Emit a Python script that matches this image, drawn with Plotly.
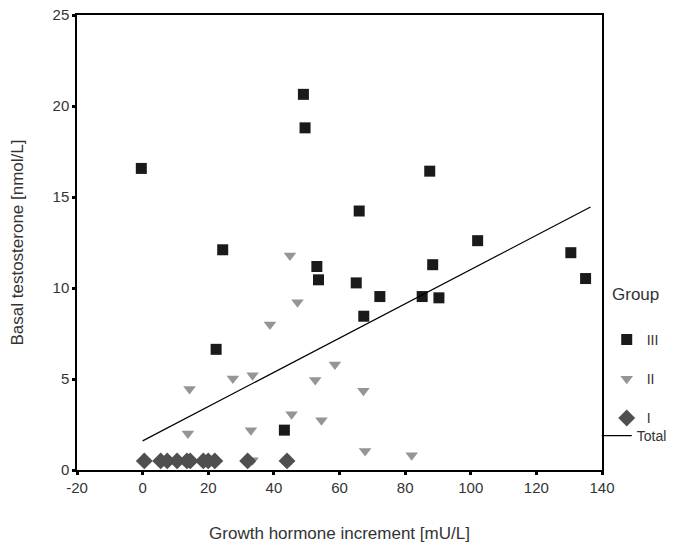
import plotly.graph_objects as go

# Group III (squares)
g3_x = [-0.4, 24.4, 22.4, 43.2, 49.0, 49.5, 53.1, 53.6, 66.0, 65.1, 67.4, 72.3, 85.2, 87.5, 88.4, 90.3, 102.1, 130.5, 135.0]
g3_y = [16.57, 12.1, 6.63, 2.19, 20.64, 18.8, 11.18, 10.45, 14.23, 10.28, 8.45, 9.53, 9.53, 16.42, 11.28, 9.46, 12.6, 11.94, 10.52]

# Group II (triangles)
g2_x = [44.9, 47.2, 38.8, 58.6, 27.5, 33.5, 14.3, 52.6, 45.4, 54.5, 13.8, 33.0, 33.5, 67.3, 67.8, 82.0]
g2_y = [11.79, 9.22, 7.99, 5.79, 5.03, 5.21, 4.45, 4.94, 3.07, 2.74, 2.0, 2.19, 0.53, 4.35, 1.05, 0.81]

# Group I (diamonds)
g1_x = [0.5, 5.5, 7.5, 10.5, 13.5, 14.5, 18.5, 20.0, 22.0, 32.0, 44.0]
g1_y = [0.5, 0.5, 0.5, 0.5, 0.5, 0.5, 0.5, 0.5, 0.5, 0.5, 0.5]

# total fit line
fit_x = [0.0, 136.5]
fit_y = [1.6, 14.45]

x_ticks = [-20, 0, 20, 40, 60, 80, 100, 120, 140]
x_ticktext = ["-20", "0", "20", "40", "60", "80", "100", "120", "140"]
y_ticks = [0, 5, 10, 15, 20, 25]

font = "Liberation Sans, Arial, sans-serif"
txt = "#333333"

fig = go.Figure()
fig.add_trace(go.Scatter(x=g3_x, y=g3_y, mode="markers", name="III", legendgroup="g3",
                         marker=dict(symbol="square", size=11, color="#1a1a1a")))
fig.add_trace(go.Scatter(x=g2_x, y=g2_y, mode="markers", name="II", legendgroup="g2",
                         marker=dict(symbol="triangle-down", size=11, color="#959595")))
fig.add_trace(go.Scatter(x=g1_x, y=g1_y, mode="markers", name="I", legendgroup="g1",
                         marker=dict(symbol="diamond", size=13, color="#4f4f4f")))
fig.add_trace(go.Scatter(x=fit_x, y=fit_y, mode="lines", name="Total", legend="legend2",
                         line=dict(color="black", width=1.2)))

# page body has an 8px margin, so the figure sits 8px in from the top-left
fig.update_layout(
    width=668, height=536,
    margin=dict(l=69, r=74, t=7, b=74, autoexpand=False),
    paper_bgcolor="white", plot_bgcolor="white",
    font=dict(family=font, color=txt, size=14),
    legend=dict(
        x=1.009, xanchor="left", y=0.321, yanchor="top",
        traceorder="grouped", tracegroupgap=18,
        font=dict(size=14, color=txt),
        itemwidth=30, bgcolor="rgba(0,0,0,0)",
    ),
    legend2=dict(
        x=0.990, xanchor="left", y=0.110, yanchor="top",
        font=dict(size=14, color=txt),
        itemwidth=30, bgcolor="rgba(0,0,0,0)",
    ),
    annotations=[dict(text="Group", x=1.016, xref="paper", xanchor="left",
                      y=0.385, yref="paper", yanchor="middle", showarrow=False,
                      font=dict(size=17, color=txt))],
)
fig.update_xaxes(
    range=[-20, 140], tickvals=x_ticks, ticktext=x_ticktext,
    showgrid=False, zeroline=False, showline=True, linecolor="black", linewidth=1.5,
    mirror=True, ticks="outside", ticklen=3, tickwidth=3, tickcolor="black",
    tickfont=dict(size=15, color=txt), automargin=False, ticklabeloverflow="allow",
    title=dict(text="Growth hormone increment [mU/L]", font=dict(size=17, color=txt), standoff=32),
)
fig.update_yaxes(
    range=[0, 25], tickvals=y_ticks,
    showgrid=False, zeroline=False, showline=True, linecolor="black", linewidth=1.5,
    mirror=True, ticks="outside", ticklen=3, tickwidth=3, tickcolor="black",
    tickfont=dict(size=15, color=txt), automargin=False, ticklabeloverflow="allow",
    title=dict(text="Basal testosterone [nmol/L]", font=dict(size=17, color=txt), standoff=26),
)

fig.write_html("out.html")
